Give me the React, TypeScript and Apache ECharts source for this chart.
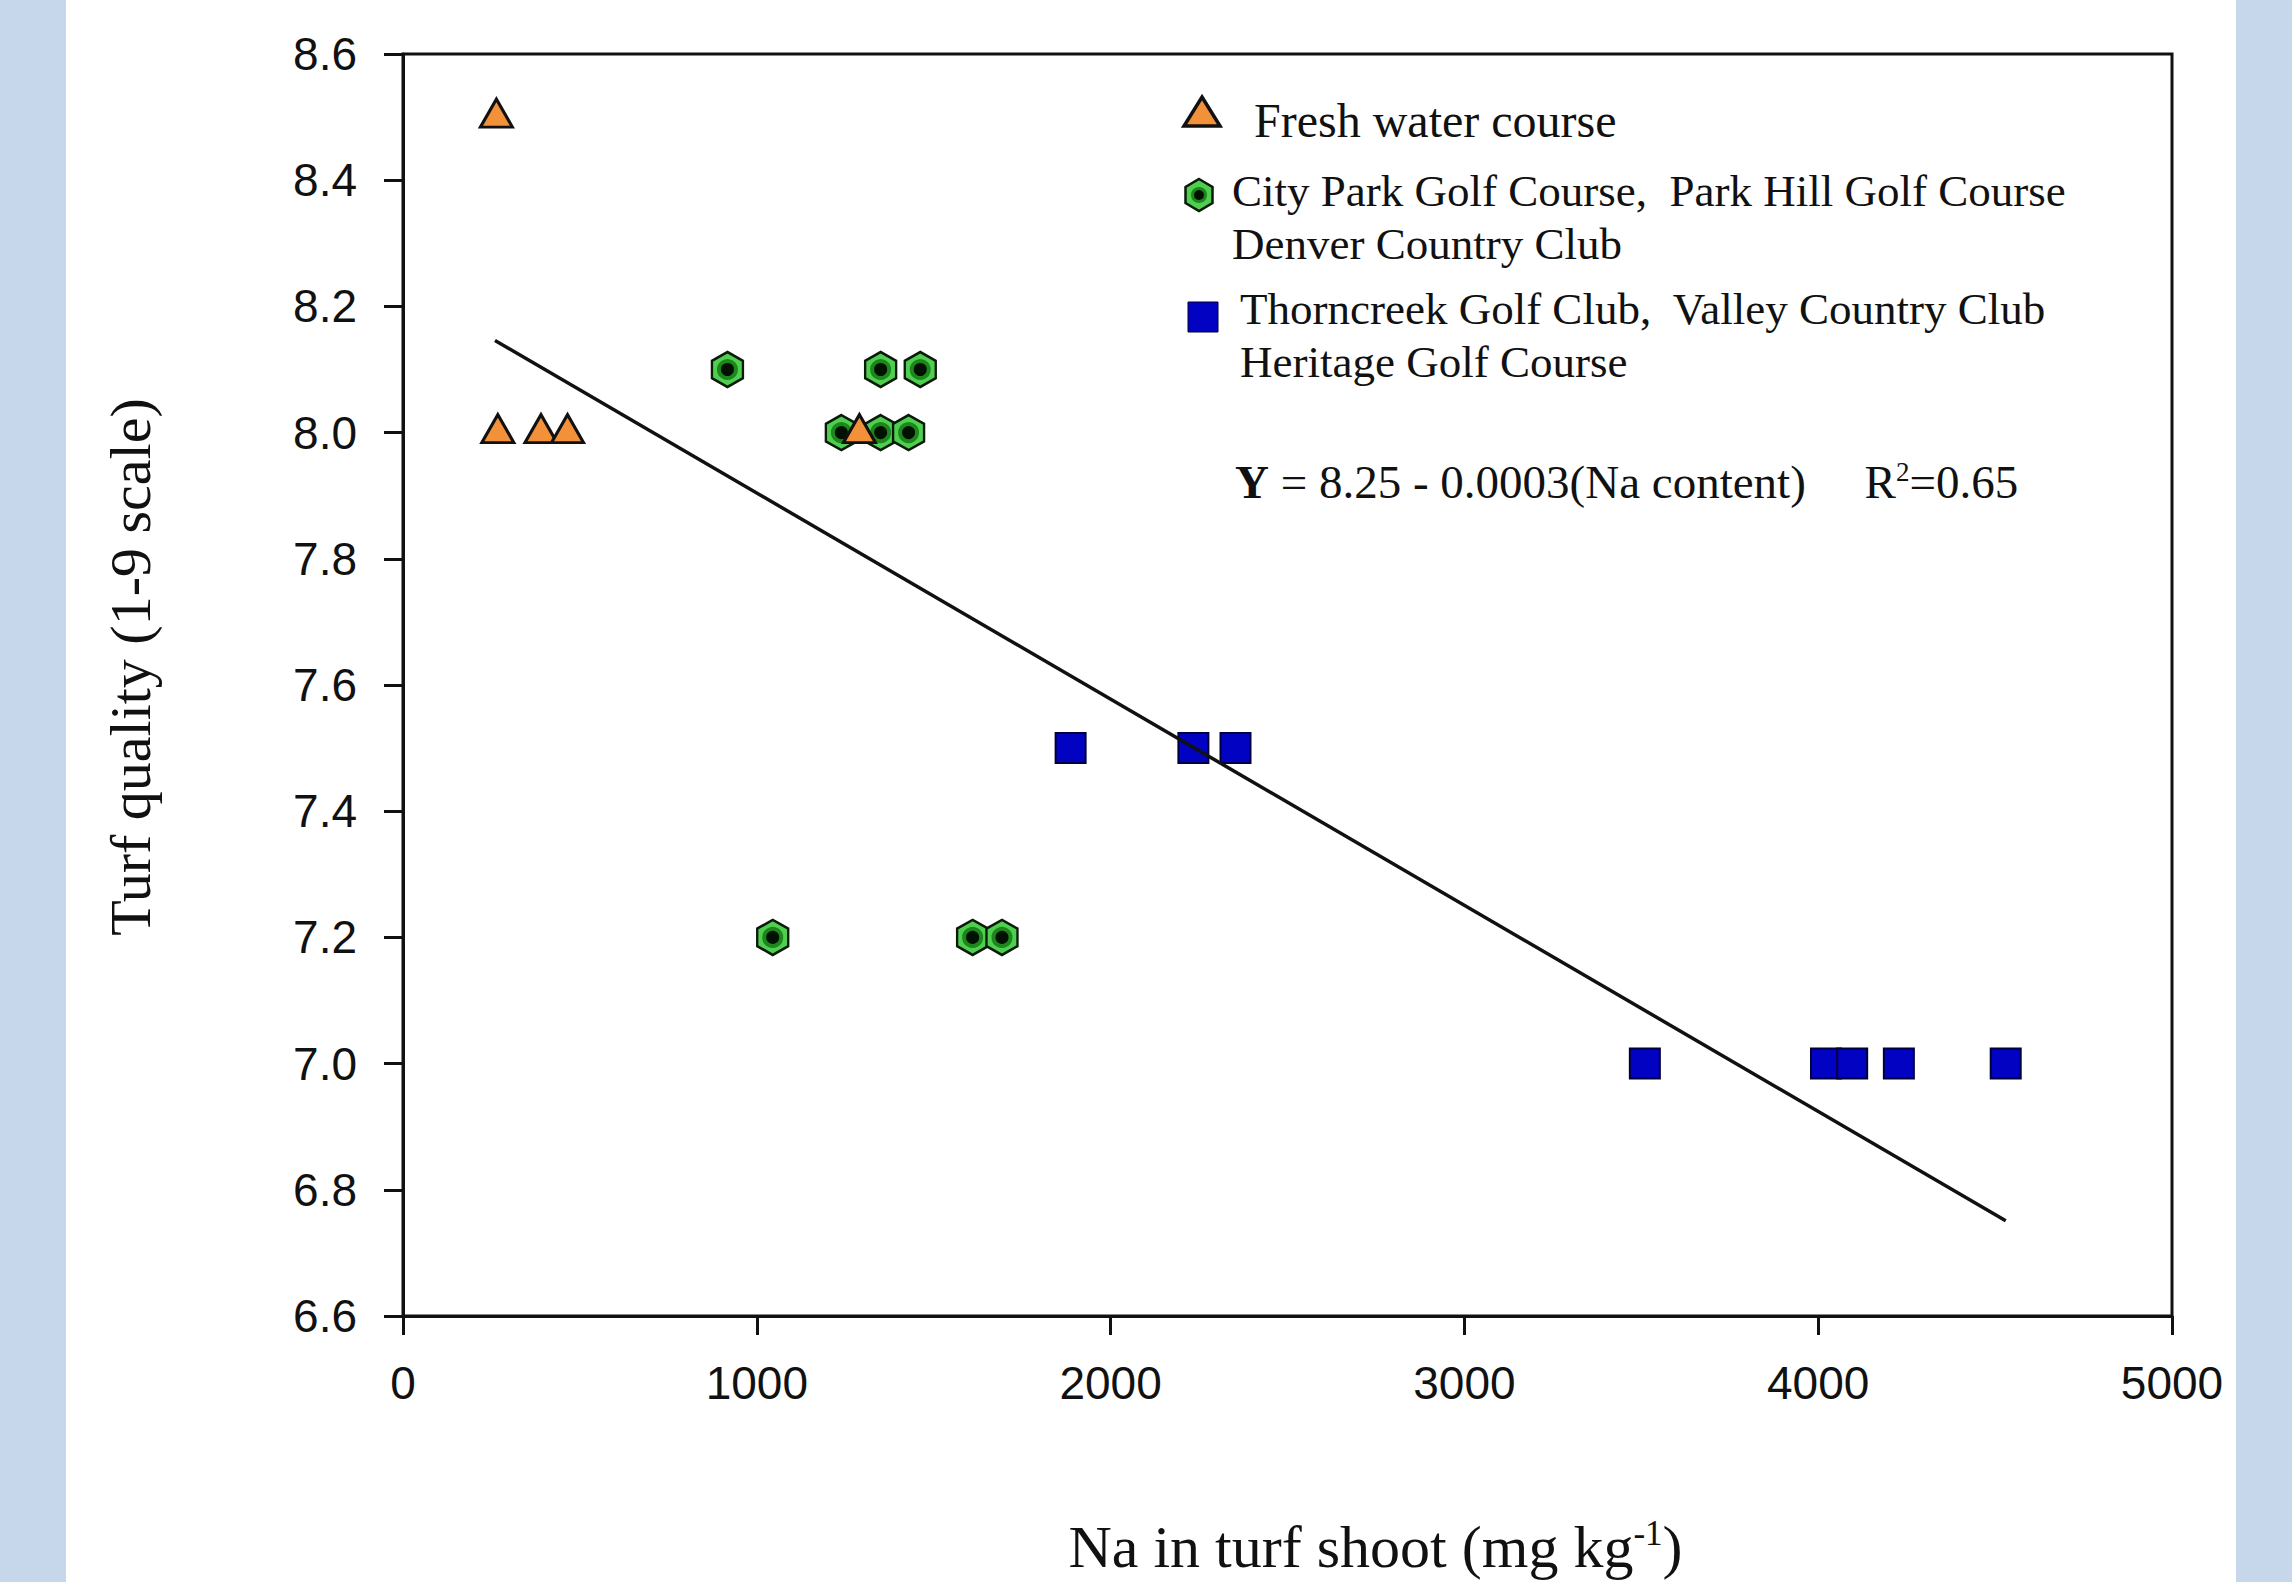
import React, { useEffect, useRef } from "react";
import * as echarts from "echarts";

// ---- data ----
const freshX = [264, 268, 390, 465, 1290];
const freshY = [8.5, 8.0, 8.0, 8.0, 8.0];

const cityX = [917, 1045, 1239, 1350, 1429, 1350, 1462, 1610, 1693];
const cityY = [8.1, 7.2, 8.0, 8.0, 8.0, 8.1, 8.1, 7.2, 7.2];

const thornX = [1887, 2234, 2353, 3510, 4022, 4096, 4228, 4530];
const thornY = [7.5, 7.5, 7.5, 7.0, 7.0, 7.0, 7.0, 7.0];

const fitX = [260, 4530];
const fitY = [8.146, 6.751];

const xTicks = [0, 1000, 2000, 3000, 4000, 5000];
const yTicks = [6.6, 6.8, 7.0, 7.2, 7.4, 7.6, 7.8, 8.0, 8.2, 8.4, 8.6];

const legendNames = [
  "Fresh water course",
  "City Park Golf Course,  Park Hill Golf Course",
  "Denver Country Club",
  "Thorncreek Golf Club,  Valley Country Club",
  "Heritage Golf Course",
];

const SERIF = "'Times New Roman', 'Liberation Serif', serif";
const SANS = "Arial, 'Liberation Sans', sans-serif";
const ORANGE = "#f2913a";
const GREEN = "#4fcf4f";
const BLUE = "#0202c2";
const BAND = "#c6d7eb";

const zip = (xs: number[], ys: number[]) => xs.map((x, i) => [x, ys[i]]);

const HEX = "path://M0,-1 L0.866,-0.5 L0.866,0.5 L0,1 L-0.866,0.5 L-0.866,-0.5 Z";

function hexPoints(cx: number, cy: number, rx: number, ry: number) {
  return [
    [cx, cy - ry],
    [cx + rx, cy - ry / 2],
    [cx + rx, cy + ry / 2],
    [cx, cy + ry],
    [cx - rx, cy + ry / 2],
    [cx - rx, cy - ry / 2],
  ];
}

export default function App() {
  const ref = useRef<HTMLDivElement>(null);

  useEffect(() => {
    if (!ref.current) return;
    const chart = echarts.init(ref.current, undefined, { renderer: "svg" });

    const legendText = (text: string, x: number, y: number, size: number) => ({
      type: "text",
      x,
      y,
      style: {
        text,
        fontFamily: SERIF,
        fontSize: size,
        fill: "#111",
        align: "left",
        verticalAlign: "middle",
      },
      z: 10,
    });

    chart.setOption({
      animation: false,
      backgroundColor: "#ffffff",
      grid: {
        left: 403,
        right: 120,
        top: 54,
        bottom: 266,
        show: true,
        borderColor: "#111",
        borderWidth: 3,
        backgroundColor: "transparent",
      },
      xAxis: {
        type: "value",
        min: xTicks[0],
        max: xTicks[xTicks.length - 1],
        interval: 1000,
        splitLine: { show: false },
        axisLine: { show: true, onZero: false, lineStyle: { color: "#111", width: 3 } },
        axisTick: { show: true, inside: false, length: 19, lineStyle: { color: "#111", width: 3 } },
        axisLabel: {
          margin: 44,
          fontFamily: SANS,
          fontSize: 46,
          color: "#111",
          formatter: (v: number) => String(v),
        },
        name: "Na in turf shoot (mg kg{sup|-1})",
        nameLocation: "middle",
        nameGap: 200,
        nameTextStyle: {
          fontFamily: SERIF,
          fontSize: 60,
          color: "#111",
          padding: [0, 0, 0, 176],
          rich: {
            sup: {
              fontFamily: SERIF,
              fontSize: 35,
              color: "#111",
              verticalAlign: "top",
              padding: [0, 0, 27, 0],
            },
          },
        },
      },
      yAxis: {
        type: "value",
        min: yTicks[0],
        max: yTicks[yTicks.length - 1],
        interval: 0.2,
        splitLine: { show: false },
        axisLine: { show: true, onZero: false, lineStyle: { color: "#111", width: 3 } },
        axisTick: { show: true, inside: false, length: 19, lineStyle: { color: "#111", width: 3 } },
        axisLabel: {
          margin: 46,
          fontFamily: SANS,
          fontSize: 46,
          color: "#111",
          formatter: (v: number) => v.toFixed(1),
        },
        name: "Turf quality (1-9 scale)",
        nameLocation: "middle",
        nameRotate: 90,
        nameGap: 244,
        nameTextStyle: {
          fontFamily: SERIF,
          fontSize: 58,
          color: "#111",
          padding: [0, 0, 0, 36],
        },
      },
      series: [
        {
          name: "City Park / Park Hill / Denver CC",
          type: "scatter",
          data: zip(cityX, cityY),
          symbol: HEX,
          symbolSize: [31, 35],
          itemStyle: { color: GREEN, borderColor: "#0b1a0b", borderWidth: 2.5, opacity: 1 },
          z: 3,
        },
        {
          name: "City Park inner",
          type: "scatter",
          data: zip(cityX, cityY),
          symbol: "circle",
          symbolSize: 17,
          itemStyle: { color: "#021202", borderColor: "#1d861d", borderWidth: 4, opacity: 1 },
          silent: true,
          z: 4,
        },
        {
          name: "Fresh water course",
          type: "scatter",
          data: zip(freshX, freshY),
          symbol: "triangle",
          symbolSize: [32, 28],
          symbolOffset: [0, -4],
          itemStyle: { color: ORANGE, borderColor: "#111", borderWidth: 3, opacity: 1 },
          z: 5,
        },
        {
          name: "Thorncreek / Valley CC / Heritage",
          type: "scatter",
          data: zip(thornX, thornY),
          symbol: "rect",
          symbolSize: 30,
          itemStyle: { color: BLUE, borderColor: "#00003a", borderWidth: 2, opacity: 1 },
          z: 3,
        },
        {
          name: "Regression",
          type: "line",
          data: zip(fitX, fitY),
          symbol: "none",
          lineStyle: { color: "#111", width: 3.5 },
          z: 6,
        },
      ],
      graphic: [
        { type: "rect", shape: { x: 0, y: 0, width: 66, height: 1582 }, style: { fill: BAND }, z: -10 },
        { type: "rect", shape: { x: 2236, y: 0, width: 56, height: 1582 }, style: { fill: BAND }, z: -10 },
        // legend symbols
        {
          type: "polygon",
          shape: { points: [[1202, 97], [1220, 126], [1184, 126]] },
          style: { fill: ORANGE, stroke: "#111", lineWidth: 3.5 },
          z: 10,
        },
        {
          type: "polygon",
          shape: { points: hexPoints(1199, 195, 13.5, 16) },
          style: { fill: GREEN, stroke: "#0b1a0b", lineWidth: 2.5 },
          z: 10,
        },
        {
          type: "circle",
          shape: { cx: 1199, cy: 195, r: 6.5 },
          style: { fill: "#021202", stroke: "#1d861d", lineWidth: 3 },
          z: 11,
        },
        {
          type: "rect",
          shape: { x: 1188, y: 302, width: 30, height: 30 },
          style: { fill: BLUE, stroke: "#00003a", lineWidth: 1 },
          z: 10,
        },
        legendText(legendNames[0], 1254, 120, 48),
        legendText(legendNames[1], 1232, 191, 45),
        legendText(legendNames[2], 1232, 244, 45),
        legendText(legendNames[3], 1240, 309, 45),
        legendText(legendNames[4], 1240, 362, 45),
        {
          type: "text",
          x: 1235,
          y: 482,
          style: {
            text: "{b|Y} = 8.25 - 0.0003(Na content)     R{sup|2}=0.65",
            fontFamily: SERIF,
            fontSize: 47,
            fill: "#111",
            align: "left",
            verticalAlign: "middle",
            rich: {
              b: { fontFamily: SERIF, fontSize: 47, fontWeight: "bold", fill: "#111" },
              sup: { fontFamily: SERIF, fontSize: 27, fill: "#111", verticalAlign: "top", padding: [0, 0, 20, 0] },
            },
          },
          z: 10,
        },
      ],
    });

    return () => chart.dispose();
  }, []);

  return (
    <div
      ref={ref}
      style={{ position: "fixed", left: 0, top: 0, width: 2292, height: 1582, background: "#fff" }}
    />
  );
}
